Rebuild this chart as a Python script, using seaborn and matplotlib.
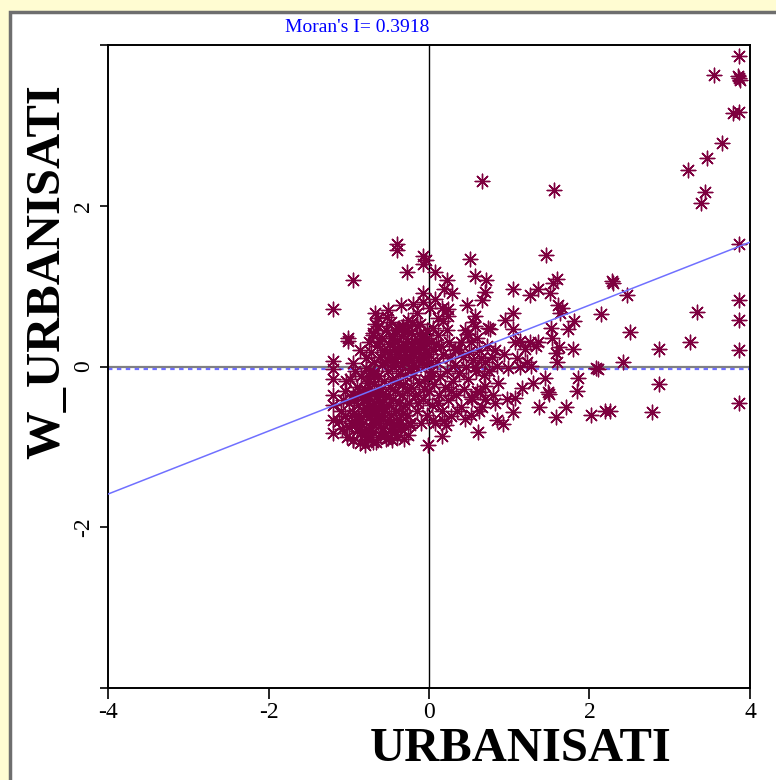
import numpy as np
import pandas as pd
import matplotlib
matplotlib.use("Agg")
import matplotlib.pyplot as plt
import seaborn as sns
from matplotlib.patches import Rectangle

# Moran scatterplot: standardised variable vs its spatial lag
moran_i = 0.3918
lag_mean = -0.03
intercept = -0.02

x_vals = [
    # upper right outliers
    3.86, 3.55, 3.86, 3.85, 3.87, 3.79, 3.86, 3.65, 3.46, 3.23, 3.44, 3.39,
    3.86, 2.29, 2.47, 3.86, 3.34, 3.86, 2.50, 2.87, 3.25, 3.86, 2.42, 2.87,
    3.86, 2.78, 2.26,
    # middle right
    0.66, 1.56, 0.51, 1.46, 0.57, 0.71, 0.70, 0.66, 0.47, 1.05, 1.26, 1.36,
    1.51, 1.55, 1.60, 2.28, 1.61, 1.66, 1.63, 1.05, 0.95, 1.81, 2.14, 0.57,
    0.57, 0.74, 0.76, 1.05, 1.52, 1.73, 1.53, 1.07, 1.13, 1.26, 1.36, 1.33,
    1.62, 1.79, 1.58, 0.93, 0.82, 1.20, 1.10, 1.22, 1.60, 1.27, 0.98, 1.13,
    0.85, 0.70, 0.57, 2.08, 2.11, 1.45, 1.86, 0.86, 1.30, 1.16, 1.48, 1.50,
    1.84, 0.70, 0.64, 0.80, 1.07, 0.97, 0.82, 0.54, 0.66, 1.37, 1.71, 1.05,
    1.58, 2.02, 2.19, 0.85, 0.92, 0.61, 0.45,
    # upper part of the cloud
    -0.40, -0.40, -0.07, -0.04, -0.07, -0.27, 0.07, -0.95, 0.22, 0.19, 0.29,
    -0.07, 0.07, -0.35, -0.20, -0.07, -1.20, -0.51, 0.01, 0.16, 0.24, -0.67,
    -0.15, -0.64, -0.52, 0.11, 0.24, -0.67, -0.32, -0.21, -0.11, 0.05, 0.17,
    0.22, -1.01, -0.70, -0.42, -0.34, -0.27, -0.46, -0.07, 0.11, 0.45, 0.47,
    # left column
    -1.20, -1.20, -1.20, -1.20, -1.20, -1.20, -1.20, -0.95, -0.86, -1.01,
    # dense lower left mass
    -1.10, -1.08, -1.05, -1.05, -1.02, -1.00, -0.98, -0.97, -0.95, -0.95,
    -0.93, -0.92, -0.90, -0.90, -0.88, -0.87, -0.86, -0.85, -0.84, -0.83,
    -0.82, -0.81, -0.80, -0.79, -0.78, -0.77, -0.76, -0.75, -0.74, -0.73,
    -0.72, -0.71, -0.70, -0.70, -0.69, -0.68, -0.67, -0.66, -0.65, -0.64,
    -0.63, -0.62, -0.61, -0.60, -0.60, -0.59, -0.58, -0.57, -0.56, -0.55,
    -0.54, -0.53, -0.52, -0.51, -0.50, -0.49, -0.48, -0.47, -0.46, -0.45,
    -0.44, -0.43, -0.42, -0.41, -0.40, -0.39, -0.38, -0.37, -0.36, -0.35,
    -0.34, -0.33, -0.32, -0.31, -0.30, -0.30,
    -0.82, -0.79, -0.76, -0.74, -0.71, -0.69, -0.66, -0.64, -0.62, -0.59,
    -0.57, -0.88, -0.86, -0.84, -0.78, -0.72, -0.68, -0.93, -0.96, -1.00,
    -1.03, -1.07, -1.12, -0.91, -0.77, -0.73, -0.55, -0.50, -0.46, -0.42,
    -0.36, -0.28, -0.26,
    # upper middle of the cloud
    -0.78, -0.75, -0.72, -0.70, -0.68, -0.65, -0.63, -0.61, -0.58, -0.56,
    -0.54, -0.52, -0.50, -0.48, -0.47, -0.45, -0.43, -0.41, -0.40, -0.38,
    -0.36, -0.35, -0.33, -0.31, -0.30, -0.28, -0.26, -0.25, -0.24, -0.22,
    -0.20, -0.19, -0.17, -0.15, -0.14, -0.12, -0.10, -0.08, -0.06, -0.04,
    -0.02, 0.00, 0.02, 0.03,
    -0.62, -0.55, -0.44, -0.39, -0.34, -0.29, -0.23, -0.18, -0.13, -0.09,
    -0.05, -0.27, -0.21, -0.16, -0.11, -0.03,
    # right side of the cloud
    -0.20, -0.18, -0.15, -0.12, -0.10, -0.08, -0.05, -0.03, 0.00, 0.02,
    0.04, 0.06, 0.08, 0.10, 0.12, 0.14, 0.16, 0.18, 0.20, 0.22,
    0.24, 0.26, 0.28, 0.30, 0.32, 0.34, 0.36, 0.38, 0.40, 0.42,
    0.44, 0.46, 0.48, 0.50, 0.52, 0.55,
    0.05, 0.09, 0.15, 0.25, 0.33, 0.40, -0.22, -0.14, -0.06, 0.03,
    0.11, 0.19, 0.27, 0.35, -0.25, -0.28, -0.24, -0.22,
    # bottom edge
    -0.01, 0.16, 0.21, 0.05, -0.24, -0.51, -0.70, -0.95, -0.80,
    0.48, 0.52, 0.55, 0.60, 0.62, 0.58, 0.60, 0.65, 0.68, 0.72,
    0.75, 0.78, 0.62, 0.70, 0.52,
]

y_vals = [
    3.86, 3.63, 3.59, 3.61, 3.57, 3.15, 3.17, 2.78, 2.60, 2.45, 2.17, 2.04,
    1.53, 1.04, 0.89, 0.83, 0.68, 0.58, 0.43, 0.22, 0.30, 0.21, 0.05, -0.22,
    -0.45, -0.57, -0.55,
    2.31, 2.19, 1.34, 1.39, 1.12, 1.08, 0.93, 0.83, 0.76, 0.97, 0.89, 0.97,
    0.91, 1.04, 1.09, 1.06, 0.76, 0.73, 0.66, 0.66, 0.58, 0.56, 0.65, 0.63,
    0.50, 0.48, 0.47, 0.47, 0.48, 0.47, 0.36, 0.31, 0.32, 0.31, 0.30, 0.26,
    0.24, 0.22, 0.17, 0.16, 0.21, 0.22, 0.10, 0.06, 0.06, 0.01, -0.02, -0.01,
    0.01, 0.05, -0.01, -0.02, -0.03, -0.14, -0.14, -0.20, -0.20, -0.27, -0.32, -0.34,
    -0.31, -0.24, -0.32, -0.36, -0.39, -0.41, -0.45, -0.41, -0.51, -0.51, -0.50, -0.57,
    -0.63, -0.60, -0.55, -0.67, -0.71, -0.82, -0.65,
    1.52, 1.45, 1.38, 1.32, 1.28, 1.17, 1.17, 1.07, 1.08, 0.96, 0.91,
    0.92, 0.84, 0.77, 0.78, 0.80, 0.72, 0.70, 0.73, 0.73, 0.72, 0.66,
    0.67, 0.60, 0.61, 0.60, 0.63, 0.53, 0.51, 0.55, 0.53, 0.48, 0.57,
    0.45, 0.35, 0.39, 0.45, 0.48, 0.45, 0.36, 0.36, 0.39, 0.45, 0.41,
    0.07, -0.03, -0.15, -0.36, -0.48, -0.67, -0.83, 0.04, 0.20, 0.32,
    -0.55, -0.78, -0.30, -0.62, -0.88, -0.45, -0.15, -0.70, -0.92, -0.35,
    -0.58, -0.05, -0.80, -0.25, -0.48, -0.65, -0.95, -0.12, -0.38, -0.72,
    -0.55, -0.85, -0.28, -0.02, -0.60, -0.42, -0.90, -0.18, -0.75, -0.50,
    -0.33, -0.66, -0.08, -0.82, -0.45, -0.22, -0.58, -0.94, -0.37, -0.70,
    -0.12, -0.52, -0.85, -0.28, -0.63, 0.02, -0.44, -0.77, -0.18, -0.55,
    -0.35, -0.90, -0.68, -0.05, -0.48, -0.25, -0.80, -0.60, -0.15, -0.40,
    -0.72, 0.05, -0.30, -0.55, -0.88, -0.20, -0.65, -0.45, -0.08, -0.78,
    -0.35, -0.58, -0.22, -0.90, -0.48, -0.12,
    -0.42, -0.52, -0.36, -0.62, -0.48, -0.30, -0.70, -0.40, -0.62, -0.34,
    -0.50, -0.62, -0.30, -0.82, -0.78, -0.88, -0.10, -0.40, -0.60, -0.75,
    -0.18, -0.42, -0.68, -0.70, -0.20, -0.05, -0.85, -0.70, -0.92, -0.82,
    -0.70, -0.60, -0.85,
    0.10, 0.30, 0.18, 0.42, 0.05, 0.25, 0.50, 0.12, 0.35, 0.20,
    0.45, 0.08, 0.28, 0.15, 0.55, 0.38, 0.22, 0.02, 0.30, 0.48,
    0.12, 0.25, 0.40, 0.05, 0.18, 0.32, 0.58, 0.10, 0.22, 0.42,
    0.02, 0.15, 0.30, 0.50, 0.08, 0.20, 0.35, 0.12, 0.25, 0.02,
    0.45, 0.15, 0.30, 0.05,
    0.32, 0.05, 0.10, 0.18, 0.02, 0.26, 0.08, 0.22, 0.40, 0.05,
    0.18, 0.45, 0.28, 0.00, 0.28, 0.35,
    -0.10, -0.35, -0.55, -0.20, -0.70, -0.40, -0.15, -0.60, -0.30, -0.05,
    -0.48, -0.22, -0.70, 0.05, -0.35, -0.12, -0.55, 0.15, -0.25, -0.05,
    -0.42, 0.10, -0.62, -0.18, 0.02, -0.35, 0.22, -0.08, -0.50, 0.12,
    -0.28, 0.00, -0.15, 0.18, -0.38, 0.08,
    0.20, 0.28, 0.25, 0.30, 0.20, 0.30, -0.25, -0.45, -0.28, -0.12,
    -0.45, -0.68, -0.30, -0.55, -0.45, -0.30, -0.70, -0.02,
    -0.98, -0.86, -0.73, -0.67, -0.73, -0.89, -0.94, -0.92, -0.98,
    0.40, 0.30, 0.55, 0.35, 0.20, -0.05, -0.30, 0.10, -0.10, 0.25,
    -0.05, 0.12, -0.55, -0.40, -0.60,
]

df = pd.DataFrame({"URBANISATI": x_vals, "W_URBANISATI": y_vals})

serif = ["Liberation Serif", "DejaVu Serif"]
plt.rcParams["font.family"] = serif

W, H = 776, 780
fig = plt.figure(figsize=(W / 100, H / 100), dpi=100, facecolor="#FFFCD2")

# white panel with grey border, drawn in a background axes
bg = fig.add_axes([0, 0, 1, 1], zorder=0)
bg.set_xlim(0, W)
bg.set_ylim(H, 0)
bg.axis("off")
bg.add_patch(Rectangle((10, 12), W, H, facecolor="white",
                       edgecolor="#6E6E6E", linewidth=2.5))

ax = fig.add_axes([108 / W, (H - 688) / H, (750 - 108) / W, (688 - 45) / H],
                  zorder=2)
ax.set_facecolor("white")

ax.axhline(0, color="#808080", lw=1.6, zorder=1)
ax.axhline(lag_mean, color="#6F6FFF", lw=1.6, ls=(0, (2, 2)), zorder=1)
ax.axvline(0, color="black", lw=1.0, zorder=1)
ax.axline((0, intercept), slope=moran_i, color="#7070FF", lw=1.1, zorder=3)

sns.scatterplot(data=df, x="URBANISATI", y="W_URBANISATI", ax=ax,
                marker=(8, 2, 0), s=110, color="#7E003F", linewidth=1.0,
                zorder=2, legend=False)

ax.set_xlim(-4, 4)
ax.set_ylim(-4, 4)
ax.set_xlabel("")
ax.set_ylabel("")
ax.set_xticks([-4, -2, 0, 2, 4])
ax.set_xticklabels(["-4", "-2", "0", "2", "4"], fontsize=17)
ax.set_yticks([-4, -2, 0, 2, 4])
ax.set_yticklabels(["", "-2", "0", "2", ""], fontsize=17, rotation=90, va="center")
ax.tick_params(axis="x", length=8, width=1.2, pad=2, colors="black")
ax.tick_params(axis="y", length=6, width=1.2, pad=4, colors="black")
for side in ["left", "bottom", "top", "right"]:
    ax.spines[side].set_linewidth(1.4)
    ax.spines[side].set_color("black")

fig.text(357 / W, 1 - 27 / H, "Moran's I= 0.3918", color="#0000FF",
         fontsize=14, ha="center", va="center", zorder=3)
fig.text(521 / W, 1 - 749 / H, "URBANISATI", fontsize=35, fontweight="bold",
         ha="center", va="center", zorder=3)
fig.text(47 / W, 1 - 272 / H, "W_URBANISATI", fontsize=35, fontweight="bold",
         rotation=90, ha="center", va="center", zorder=3)

fig.savefig("out.png", dpi=100, facecolor=fig.get_facecolor())
